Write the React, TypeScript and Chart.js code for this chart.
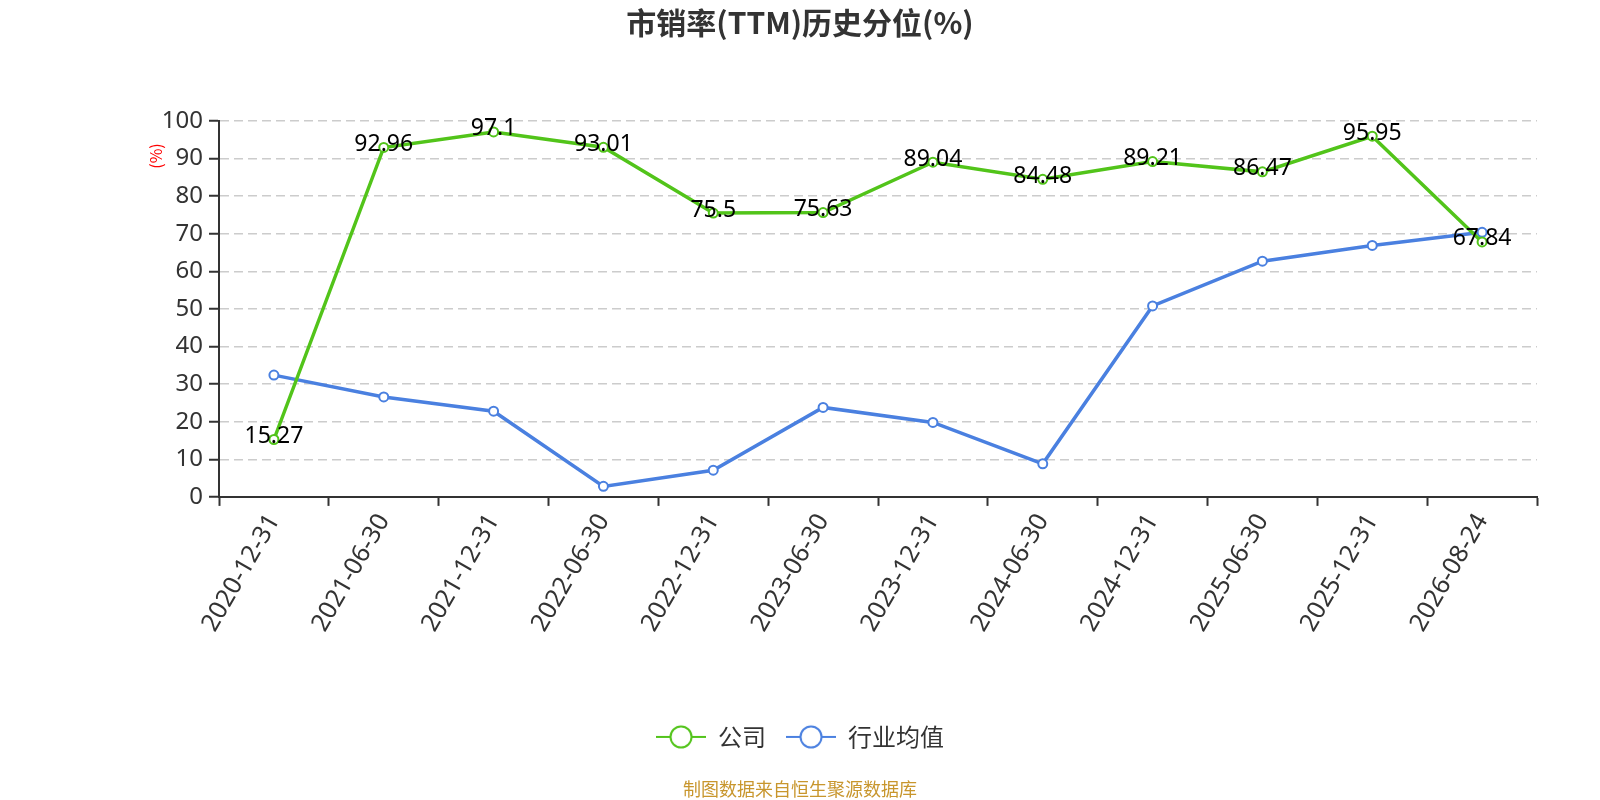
import { useEffect, useRef } from "react";
import { Chart, registerables } from "chart.js";

Chart.register(...registerables);

const categories = [
  "2020-12-31", "2021-06-30", "2021-12-31", "2022-06-30", "2022-12-31", "2023-06-30",
  "2023-12-31", "2024-06-30", "2024-12-31", "2025-06-30", "2025-12-31", "2026-08-24",
];
const companyValues = [15.27, 92.96, 97.1, 93.01, 75.5, 75.63, 89.04, 84.48, 89.21, 86.47, 95.95, 67.84];
const industryValues = [32.4, 26.6, 22.8, 2.8, 7.1, 23.8, 19.8, 8.8, 50.8, 62.7, 66.9, 70.4];
const seriesNames = ["公司", "行业均值"];
const seriesColors = ["#52c41a", "#4a80e0"];

const CJK = '"Noto Sans CJK SC", "Noto Sans", sans-serif';
const NUM = '"Noto Sans", "Noto Sans CJK SC", sans-serif';

// legend icon: short line with a hollow circle on it
const makeIcon = (color: string) => {
  const c = document.createElement("canvas");
  c.width = 50;
  c.height = 26;
  const ctx = c.getContext("2d")!;
  ctx.strokeStyle = color;
  ctx.lineWidth = 2;
  ctx.beginPath();
  ctx.moveTo(0, 13);
  ctx.lineTo(50, 13);
  ctx.stroke();
  ctx.beginPath();
  ctx.arc(25, 13, 10.5, 0, Math.PI * 2);
  ctx.fillStyle = "#fff";
  ctx.fill();
  ctx.stroke();
  return c;
};

const valueLabels = {
  id: "valueLabels",
  afterDatasetsDraw(chart: Chart) {
    const { ctx } = chart;
    const meta = chart.getDatasetMeta(0);
    ctx.save();
    ctx.font = `23px ${NUM}`;
    ctx.fillStyle = "#000";
    ctx.textAlign = "center";
    ctx.textBaseline = "middle";
    meta.data.forEach((pt, i) => {
      ctx.fillText(String(companyValues[i]), pt.x, pt.y - 3);
    });
    ctx.restore();
  },
};

const unitLabel = {
  id: "unitLabel",
  afterDraw(chart: Chart) {
    const { ctx, chartArea } = chart;
    ctx.save();
    ctx.translate(chartArea.left - 63, chartArea.top + 35);
    ctx.rotate(-Math.PI / 2);
    ctx.font = `16px ${CJK}`;
    ctx.fillStyle = "red";
    ctx.textAlign = "center";
    ctx.textBaseline = "middle";
    ctx.fillText("(%)", 0, 0);
    ctx.restore();
  },
};

export default function App() {
  const canvasRef = useRef<HTMLCanvasElement | null>(null);

  useEffect(() => {
    if (!canvasRef.current) return;
    const icons = seriesColors.map(makeIcon);
    const chart = new Chart(canvasRef.current, {
      type: "line",
      data: {
        labels: categories,
        datasets: [
          {
            label: seriesNames[0],
            data: companyValues,
            borderColor: seriesColors[0],
            backgroundColor: "#fff",
            borderWidth: 3.5,
            pointRadius: 4.5,
            pointBorderWidth: 2,
            pointBackgroundColor: "#fff",
            tension: 0,
          },
          {
            label: seriesNames[1],
            data: industryValues,
            borderColor: seriesColors[1],
            backgroundColor: "#fff",
            borderWidth: 3.5,
            pointRadius: 4.5,
            pointBorderWidth: 2,
            pointBackgroundColor: "#fff",
            tension: 0,
          },
        ],
      },
      options: {
        animation: false,
        responsive: true,
        maintainAspectRatio: false,
        layout: { padding: 0 },
        scales: {
          x: {
            offset: true,
            grid: {
              offset: true,
              drawOnChartArea: false,
              tickLength: 9,
              tickColor: "#333",
              tickWidth: 2,
            },
            border: { color: "#333", width: 2 },
            ticks: {
              autoSkip: false,
              minRotation: 60,
              maxRotation: 60,
              padding: 3,
              color: "#333",
              font: { size: 25, family: NUM },
            },
            afterFit: (s) => {
              s.height = 208;
            },
          },
          y: {
            min: 0,
            max: 100,
            ticks: {
              stepSize: 10,
              padding: 6,
              color: "#333",
              font: { size: 24, family: NUM },
            },
            grid: {
              color: "#cccccc",
              lineWidth: 1.5,
              tickLength: 10,
              tickColor: "#333",
              tickWidth: 2,
              tickBorderDash: [],
            },
            border: { color: "#333", width: 2, dash: [9, 5] },
            afterFit: (s) => {
              s.width = 219;
            },
          },
          yRight: {
            position: "right",
            display: true,
            ticks: { display: false },
            grid: { display: false },
            border: { display: false },
            afterFit: (s) => {
              s.width = 63;
            },
          },
        },
        plugins: {
          tooltip: { enabled: false },
          title: {
            display: true,
            text: "市销率(TTM)历史分位(%)",
            color: "#333",
            font: { size: 30, weight: "bold", family: CJK },
            padding: { top: 5, bottom: 80 },
          },
          legend: {
            position: "bottom",
            labels: {
              usePointStyle: true,
              pointStyleWidth: 50,
              padding: 20,
              color: "#333",
              font: { size: 24, family: CJK },
              generateLabels: (ch) =>
                Chart.defaults.plugins.legend.labels
                  .generateLabels(ch)
                  .map((l, i) => ({ ...l, pointStyle: icons[i] })),
            },
          },
          subtitle: {
            display: true,
            position: "bottom",
            text: "制图数据来自恒生聚源数据库",
            color: "#c8962d",
            font: { size: 18, family: CJK },
            padding: { top: 19.5, bottom: 0 },
          },
        },
      },
      plugins: [valueLabels, unitLabel],
    });
    return () => chart.destroy();
  }, []);

  return (
    <div style={{ position: "absolute", left: 0, top: 0, width: 1600, height: 800 }}>
      <canvas ref={canvasRef} />
    </div>
  );
}
